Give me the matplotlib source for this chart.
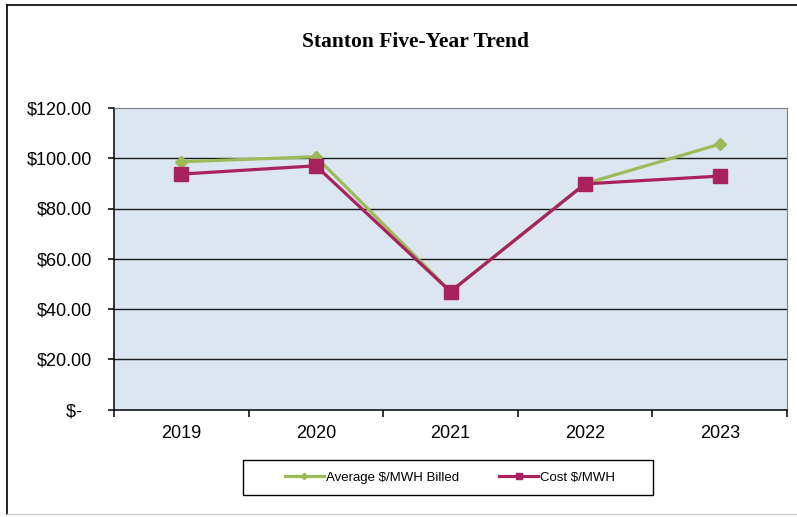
import matplotlib
matplotlib.use("Agg")
import matplotlib.pyplot as plt
from matplotlib.patches import Rectangle
from matplotlib.lines import Line2D

years = ['2019', '2020', '2021', '2022', '2023']
avg_billed = [98.6, 100.6, 47.0, 89.9, 105.6]
cost = [93.7, 97.0, 46.9, 89.8, 92.9]
y_ticks = [0, 20, 40, 60, 80, 100, 120]
y_labels = ['$-  ', '$20.00', '$40.00', '$60.00', '$80.00', '$100.00', '$120.00']
title = 'Stanton Five-Year Trend'
series_names = ['Average $/MWH Billed', 'Cost $/MWH']

W, H = 797, 517
fig = plt.figure(figsize=(W / 100, H / 100), dpi=100)
fig.patch.set_facecolor('white')

# outer chart border
fig.add_artist(Line2D([7 / W, 7 / W], [1 - 5 / H, 1 - 514 / H], transform=fig.transFigure, color='black', lw=1.2))
fig.add_artist(Line2D([7 / W, 1.0], [1 - 5 / H, 1 - 5 / H], transform=fig.transFigure, color='black', lw=1.2))
fig.add_artist(Line2D([7 / W, 1.0], [1 - 514 / H, 1 - 514 / H], transform=fig.transFigure, color='#cccccc', lw=1.0))

left, right, top, bottom = 114, 787, 108, 409.5
ax = fig.add_axes([left / W, 1 - bottom / H, (right - left) / W, (bottom - top) / H])
ax.set_facecolor('#dce6f1')

x = list(range(len(years)))
green = '#9bbb59'
red = '#a8235d'
ax.plot(x, avg_billed, color=green, lw=2.3, marker='D', markersize=6.5, zorder=3, label=series_names[0])
ax.plot(x, cost, color=red, lw=2.3, marker='s', markersize=9.5, zorder=4, label=series_names[1])

ax.set_xlim(-0.5, len(years) - 0.5)
ax.set_ylim(0, 120)
ax.set_yticks(y_ticks)
ax.set_yticklabels(y_labels, fontfamily='Liberation Sans', fontsize=13)
ax.set_xticks(x)
ax.set_xticklabels(years, fontfamily='Liberation Sans', fontsize=13)
ax.set_xticks([i - 0.5 for i in range(len(years) + 1)], minor=True)
ax.tick_params(axis='x', which='major', length=0, pad=11)
ax.tick_params(axis='x', which='minor', length=5, width=1.1, direction='out', color='black')
ax.tick_params(axis='y', length=4.3, width=1.1, direction='out', color='black', pad=11.5)

for v in y_ticks[1:-1]:
    ax.axhline(v, color='#1a1a1a', lw=1.0, zorder=1)

ax.spines['left'].set_color('black')
ax.spines['left'].set_linewidth(1.1)
ax.spines['bottom'].set_color('black')
ax.spines['bottom'].set_linewidth(1.1)
ax.spines['top'].set_color('#808080')
ax.spines['right'].set_color('#808080')

fig.text(415 / W, 1 - 42 / H, title, ha='center', va='center', fontfamily='Liberation Serif',
         fontweight='bold', fontsize=15.5)

# legend box
fig.add_artist(Rectangle((243 / W, 1 - 495 / H), 410 / W, 35 / H, transform=fig.transFigure,
                         facecolor='white', edgecolor='black', lw=1.0))
leg = fig.legend(handles=ax.get_lines(), labels=series_names, loc='center',
                 bbox_to_anchor=(450 / W, 1 - 477.5 / H), ncol=2,
                 prop={'family': 'Liberation Sans', 'size': 9.5}, frameon=False,
                 handlelength=3.0, handletextpad=0.15, columnspacing=3.0, markerscale=0.5,
                 borderaxespad=0, borderpad=0)

fig.savefig('out.png', dpi=100, facecolor='white')
